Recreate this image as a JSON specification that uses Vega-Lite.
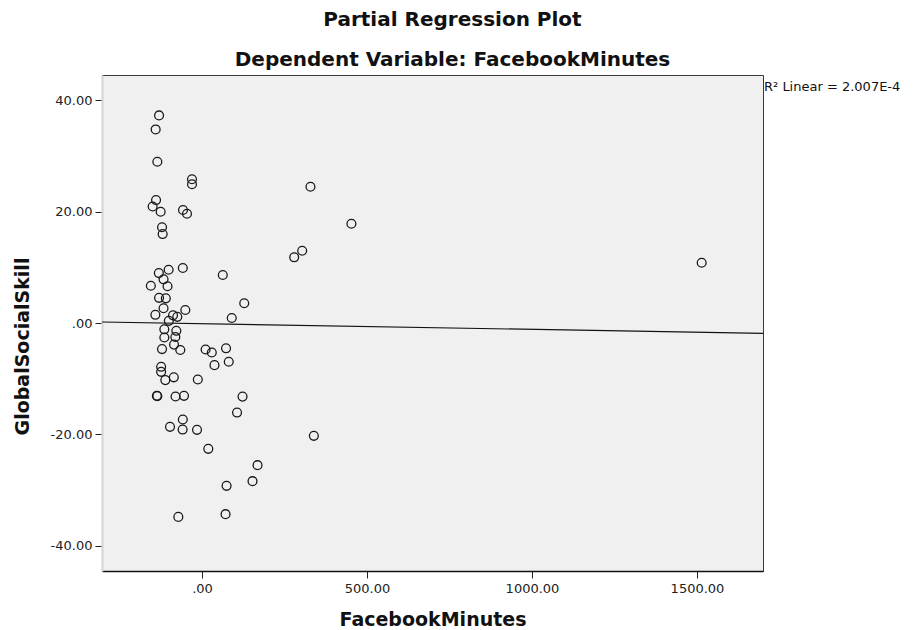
{
  "$schema": "https://vega.github.io/schema/vega-lite/v6.json",
  "width": 661,
  "height": 496,
  "autosize": {"type": "none"},
  "padding": {"left": 102, "top": 75, "right": 156, "bottom": 59},
  "background": "white",
  "title": {
    "text": "Partial Regression Plot",
    "subtitle": "Dependent Variable: FacebookMinutes",
    "anchor": "middle",
    "frame": "group",
    "dx": 20,
    "offset": 5,
    "font": "DejaVu Sans",
    "fontSize": 20,
    "fontWeight": "bold",
    "color": "#111",
    "subtitleFont": "DejaVu Sans",
    "subtitleFontSize": 20,
    "subtitleFontWeight": "bold",
    "subtitleColor": "#111",
    "subtitlePadding": 20
  },
  "config": {
    "view": {"fill": "#f0f0f0", "stroke": "#3a3a3a", "strokeWidth": 1},
    "axis": {
      "grid": false,
      "labelFont": "DejaVu Sans",
      "labelFontSize": 13,
      "labelColor": "#222",
      "titleFont": "DejaVu Sans",
      "titleFontSize": 19,
      "titleFontWeight": "bold",
      "titleColor": "#111",
      "tickColor": "#222",
      "tickSize": 7
    }
  },
  "datasets": {
    "pts": [
      {"FacebookMinutes": -130.1, "GlobalSocialSkill": 37.25},
      {"FacebookMinutes": -140.4, "GlobalSocialSkill": 34.73},
      {"FacebookMinutes": -135.3, "GlobalSocialSkill": 28.94},
      {"FacebookMinutes": -30.3, "GlobalSocialSkill": 25.79},
      {"FacebookMinutes": -30.3, "GlobalSocialSkill": 24.9},
      {"FacebookMinutes": 328.7, "GlobalSocialSkill": 24.45},
      {"FacebookMinutes": -139.2, "GlobalSocialSkill": 22.06},
      {"FacebookMinutes": -149.5, "GlobalSocialSkill": 20.91},
      {"FacebookMinutes": -125.3, "GlobalSocialSkill": 19.96},
      {"FacebookMinutes": -57.5, "GlobalSocialSkill": 20.27},
      {"FacebookMinutes": -45.4, "GlobalSocialSkill": 19.6},
      {"FacebookMinutes": 452.8, "GlobalSocialSkill": 17.81},
      {"FacebookMinutes": -121.1, "GlobalSocialSkill": 17.18},
      {"FacebookMinutes": -119.2, "GlobalSocialSkill": 15.96},
      {"FacebookMinutes": 303.6, "GlobalSocialSkill": 12.96},
      {"FacebookMinutes": 279.4, "GlobalSocialSkill": 11.79},
      {"FacebookMinutes": 1514.2, "GlobalSocialSkill": 10.81},
      {"FacebookMinutes": -101.1, "GlobalSocialSkill": 9.55},
      {"FacebookMinutes": -130.8, "GlobalSocialSkill": 8.96},
      {"FacebookMinutes": -58.1, "GlobalSocialSkill": 9.87},
      {"FacebookMinutes": 63.0, "GlobalSocialSkill": 8.62},
      {"FacebookMinutes": -116.5, "GlobalSocialSkill": 7.84},
      {"FacebookMinutes": -155.0, "GlobalSocialSkill": 6.68},
      {"FacebookMinutes": -104.4, "GlobalSocialSkill": 6.59},
      {"FacebookMinutes": -130.1, "GlobalSocialSkill": 4.52},
      {"FacebookMinutes": -109.6, "GlobalSocialSkill": 4.43},
      {"FacebookMinutes": 128.0, "GlobalSocialSkill": 3.54},
      {"FacebookMinutes": -116.5, "GlobalSocialSkill": 2.64},
      {"FacebookMinutes": -50.5, "GlobalSocialSkill": 2.33},
      {"FacebookMinutes": -141.3, "GlobalSocialSkill": 1.47},
      {"FacebookMinutes": -87.8, "GlobalSocialSkill": 1.38},
      {"FacebookMinutes": -100.5, "GlobalSocialSkill": 0.39},
      {"FacebookMinutes": 90.2, "GlobalSocialSkill": 0.9},
      {"FacebookMinutes": -74.8, "GlobalSocialSkill": 1.11},
      {"FacebookMinutes": -114.1, "GlobalSocialSkill": -1.13},
      {"FacebookMinutes": -77.8, "GlobalSocialSkill": -1.4},
      {"FacebookMinutes": -114.1, "GlobalSocialSkill": -2.6},
      {"FacebookMinutes": -80.8, "GlobalSocialSkill": -2.51},
      {"FacebookMinutes": -84.7, "GlobalSocialSkill": -3.88},
      {"FacebookMinutes": -121.1, "GlobalSocialSkill": -4.68},
      {"FacebookMinutes": -65.7, "GlobalSocialSkill": -4.85},
      {"FacebookMinutes": 10.9, "GlobalSocialSkill": -4.76},
      {"FacebookMinutes": 29.7, "GlobalSocialSkill": -5.3},
      {"FacebookMinutes": 72.9, "GlobalSocialSkill": -4.54},
      {"FacebookMinutes": 37.8, "GlobalSocialSkill": -7.56},
      {"FacebookMinutes": 81.1, "GlobalSocialSkill": -6.96},
      {"FacebookMinutes": -123.8, "GlobalSocialSkill": -7.86},
      {"FacebookMinutes": -123.8, "GlobalSocialSkill": -8.76},
      {"FacebookMinutes": -111.1, "GlobalSocialSkill": -10.25},
      {"FacebookMinutes": -85.4, "GlobalSocialSkill": -9.75},
      {"FacebookMinutes": -12.7, "GlobalSocialSkill": -10.14},
      {"FacebookMinutes": -136.8, "GlobalSocialSkill": -13.07},
      {"FacebookMinutes": -135.3, "GlobalSocialSkill": -13.12},
      {"FacebookMinutes": -80.2, "GlobalSocialSkill": -13.19},
      {"FacebookMinutes": -54.5, "GlobalSocialSkill": -13.07},
      {"FacebookMinutes": 122.9, "GlobalSocialSkill": -13.21},
      {"FacebookMinutes": 106.2, "GlobalSocialSkill": -16.07},
      {"FacebookMinutes": -58.1, "GlobalSocialSkill": -17.32},
      {"FacebookMinutes": -96.9, "GlobalSocialSkill": -18.63},
      {"FacebookMinutes": -58.7, "GlobalSocialSkill": -19.12},
      {"FacebookMinutes": -15.1, "GlobalSocialSkill": -19.17},
      {"FacebookMinutes": 339.0, "GlobalSocialSkill": -20.25},
      {"FacebookMinutes": 19.1, "GlobalSocialSkill": -22.58},
      {"FacebookMinutes": 168.3, "GlobalSocialSkill": -25.51},
      {"FacebookMinutes": 153.1, "GlobalSocialSkill": -28.38},
      {"FacebookMinutes": 74.5, "GlobalSocialSkill": -29.22},
      {"FacebookMinutes": -71.7, "GlobalSocialSkill": -34.79},
      {"FacebookMinutes": 71.4, "GlobalSocialSkill": -34.3}
    ],
    "fit": [
      {"FacebookMinutes": -303, "GlobalSocialSkill": 0.18},
      {"FacebookMinutes": 1700, "GlobalSocialSkill": -1.85}
    ],
    "note": [
      {"FacebookMinutes": 1700, "GlobalSocialSkill": 42.3, "label": "R² Linear = 2.007E-4"}
    ]
  },
  "encoding": {
    "x": {
      "field": "FacebookMinutes",
      "type": "quantitative",
      "scale": {"domain": [-303, 1700], "nice": false, "zero": false},
      "axis": {
        "values": [0, 500, 1000, 1500],
        "labelExpr": "datum.value == 0 ? '.00' : format(datum.value, '.2f')",
        "domainColor": "#111",
        "domainWidth": 1.5,
        "labelPadding": 4,
        "titlePadding": 15,
        "title": "FacebookMinutes"
      }
    },
    "y": {
      "field": "GlobalSocialSkill",
      "type": "quantitative",
      "scale": {"domain": [-44.5, 44.5], "nice": false, "zero": false},
      "axis": {
        "values": [-40, -20, 0, 20, 40],
        "labelExpr": "datum.value == 0 ? '.00' : (datum.value < 0 ? '-' : '') + format(abs(datum.value), '.2f')",
        "domainColor": "#d4d4d4",
        "domainWidth": 2,
        "labelPadding": 3,
        "titlePadding": 18,
        "titleY": 271,
        "titleAlign": "center",
        "title": "GlobalSocialSkill"
      }
    }
  },
  "layer": [
    {
      "data": {"name": "fit"},
      "mark": {"type": "line", "color": "#111", "strokeWidth": 1.2, "clip": true}
    },
    {
      "data": {"name": "pts"},
      "mark": {"type": "point", "shape": "circle", "filled": false, "stroke": "#1a1a1a", "strokeWidth": 1.3, "size": 78, "opacity": 1}
    },
    {
      "data": {"name": "note"},
      "mark": {"type": "text", "align": "left", "baseline": "middle", "dx": 1, "font": "DejaVu Sans", "fontSize": 13, "color": "#111", "clip": false},
      "encoding": {"text": {"field": "label"}}
    }
  ]
}
